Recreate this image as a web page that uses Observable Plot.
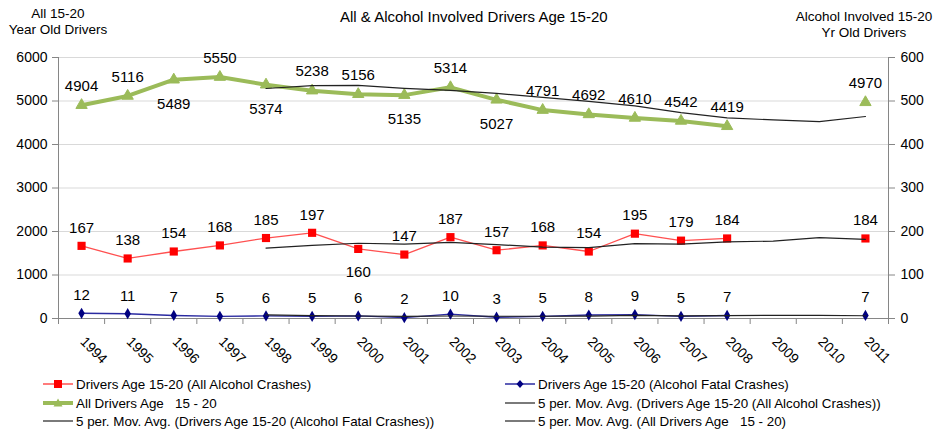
<!DOCTYPE html>
<html>
<head>
<meta charset="utf-8">
<script src="https://cdn.jsdelivr.net/npm/d3@7"></script>
<script src="https://cdn.jsdelivr.net/npm/@observablehq/plot@0.6"></script>
<style>
  body { margin: 0; background: #fff; }
  #wrap { position: relative; width: 934px; height: 433px; overflow: hidden; font-family: "Liberation Sans", Arial, sans-serif; color: #000; }
  .abs { position: absolute; white-space: nowrap; }
  .ctitle { font-size: 15px; }
  .atitle { font-size: 13.5px; text-align: center; line-height: 16px; }
  .leg { position: absolute; font-size: 13.4px; display: flex; align-items: center; height: 18px; }
  .leg svg { margin-right: 3px; }
</style>
</head>
<body>
<div id="wrap"></div>
<script>
// ---- data ----
const years = [1994,1995,1996,1997,1998,1999,2000,2001,2002,2003,2004,2005,2006,2007,2008,2009,2010,2011];
const allDrivers =      [4904,5116,5489,5550,5374,5238,5156,5135,5314,5027,4791,4692,4610,4542,4419,null,null,4970];
const alcoholCrashes =  [167,138,154,168,185,197,160,147,187,157,168,154,195,179,184,null,null,184];
const fatalCrashes =    [12,11,7,5,6,5,6,2,10,3,5,8,9,5,7,null,null,7];
const maAllDrivers =    [null,null,null,null,5287,5353,5361,5291,5243,5174,5085,4992,4887,4732,4611,4566,4524,4644];
const maAlcohol =       [null,null,null,null,162,168,173,171,175,170,164,163,172,171,176,178,186,182];
const maFatal =         [null,null,null,null,8.2,6.8,5.8,4.8,5.8,5.2,5.2,5.6,7.0,6.0,6.8,7.3,7.0,6.3];
const leftTicks = [0,1000,2000,3000,4000,5000,6000];

const chartTitle = "All & Alcohol Involved Drivers Age 15-20";
const leftTitle = ["All 15-20", "Year Old Drivers"];
const rightTitle = ["Alcohol Involved 15-20", "Yr Old Drivers"];
const legendItems = [
  {name: "Drivers Age 15-20 (All Alcohol Crashes)", kind: "red"},
  {name: "Drivers Age 15-20 (Alcohol Fatal Crashes)", kind: "navy"},
  {name: "All Drivers Age   15 - 20", kind: "green"},
  {name: "5 per. Mov. Avg. (Drivers Age 15-20 (All Alcohol Crashes))", kind: "black"},
  {name: "5 per. Mov. Avg. (Drivers Age 15-20 (Alcohol Fatal Crashes))", kind: "black"},
  {name: "5 per. Mov. Avg. (All Drivers Age   15 - 20)", kind: "black"}
];

// ---- build rows (secondary axis values mapped x10 onto primary scale) ----
const rows = years.map((yr, i) => ({
  year: yr,
  all: allDrivers[i],
  alc: alcoholCrashes[i] == null ? null : alcoholCrashes[i] * 10,
  alcRaw: alcoholCrashes[i],
  fat: fatalCrashes[i] == null ? null : fatalCrashes[i] * 10,
  fatRaw: fatalCrashes[i],
  maAll: maAllDrivers[i],
  maAlc: maAlcohol[i] == null ? null : maAlcohol[i] * 10,
  maFat: maFatal[i] == null ? null : maFatal[i] * 10
}));
const bounds = years.map(y => y - 0.5).concat([years[years.length - 1] + 0.5]);
const belowAll = new Set([1996, 1998, 2001, 2003]);
const belowAlc = new Set([2000]);

const FONT = '"Liberation Sans", Arial, sans-serif';
const GREEN = "#9BBB59", RED = "#FF0000", NAVY = "#000080";

const chart = Plot.plot({
  width: 934,
  height: 375,
  marginLeft: 58,
  marginRight: 46,
  marginTop: 57,
  marginBottom: 57,
  style: {fontFamily: FONT, fontSize: "14px", color: "#000", background: "transparent", overflow: "visible"},
  x: {type: "linear", domain: [bounds[0], bounds[bounds.length - 1]]},
  y: {domain: [0, 6000]},
  marks: [
    Plot.ruleY(leftTicks.filter(d => d > 0), {stroke: "#d9d9d9", strokeWidth: 1}),
    Plot.ruleX([bounds[0], bounds[bounds.length - 1]], {stroke: "#868686"}),
    Plot.ruleY([0], {stroke: "#868686"}),
    Plot.axisY({anchor: "left", ticks: leftTicks, tickSize: 6, tickPadding: 5, stroke: "#868686", fill: "#000", label: null, tickFormat: d => String(d), fontSize: 14}),
    Plot.axisY({anchor: "right", ticks: leftTicks, tickSize: 6, tickPadding: 6, stroke: "#868686", fill: "#000", label: null, tickFormat: d => String(d / 10), fontSize: 14}),
    Plot.axisX({ticks: bounds, tickSize: 6, stroke: "#868686", tickFormat: () => "", label: null}),
    Plot.text(years, {x: d => d, frameAnchor: "bottom", dy: 24, dx: -2, rotate: 45, textAnchor: "start", text: d => String(d), fontSize: 14, fill: "#000"}),

    // series
    Plot.line(rows, {x: "year", y: "all", stroke: GREEN, strokeWidth: 4, curve: "linear"}),
    Plot.dot(rows.filter(d => d.all != null), {x: "year", y: "all", symbol: "triangle", r: 4.2, fill: GREEN, stroke: GREEN, strokeWidth: 1}),
    Plot.line(rows, {x: "year", y: "alc", stroke: "#FF5050", strokeWidth: 1.3}),
    Plot.dot(rows.filter(d => d.alc != null), {x: "year", y: "alc", symbol: "square", r: 4.6, fill: RED}),
    Plot.line(rows, {x: "year", y: "fat", stroke: "#2a2aa0", strokeWidth: 1.4}),
    Plot.dot(rows.filter(d => d.fat != null), {x: "year", y: "fat", symbol: "diamond", r: 3.4, fill: NAVY}),

    // moving averages
    Plot.line(rows, {x: "year", y: "maAll", stroke: "#222", strokeWidth: 1.2}),
    Plot.line(rows, {x: "year", y: "maAlc", stroke: "#222", strokeWidth: 1.2}),
    Plot.line(rows, {x: "year", y: "maFat", stroke: "#222", strokeWidth: 1.2}),

    // data labels
    Plot.text(rows.filter(d => d.all != null && !belowAll.has(d.year)), {x: "year", y: "all", text: d => String(d.all), dy: -19, fontSize: 15, fill: "#000"}),
    Plot.text(rows.filter(d => d.all != null && belowAll.has(d.year)), {x: "year", y: "all", text: d => String(d.all), dy: 24, fontSize: 15, fill: "#000"}),
    Plot.text(rows.filter(d => d.alc != null && !belowAlc.has(d.year)), {x: "year", y: "alc", text: d => String(d.alcRaw), dy: -18, fontSize: 15, fill: "#000"}),
    Plot.text(rows.filter(d => d.alc != null && belowAlc.has(d.year)), {x: "year", y: "alc", text: d => String(d.alcRaw), dy: 23, fontSize: 15, fill: "#000"}),
    Plot.text(rows.filter(d => d.fat != null), {x: "year", y: "fat", text: d => String(d.fatRaw), dy: -18, fontSize: 15, fill: "#000"})
  ]
});

const wrap = document.getElementById("wrap");
chart.style.position = "absolute";
chart.style.left = "0px";
chart.style.top = "0px";
wrap.appendChild(chart);

function addDiv(html, cls, css) {
  const d = document.createElement("div");
  d.className = "abs " + cls;
  d.innerHTML = html;
  Object.assign(d.style, css);
  wrap.appendChild(d);
  return d;
}
addDiv(chartTitle, "ctitle", {left: "340px", top: "8px"});
addDiv(leftTitle.join("<br>"), "atitle", {left: "0px", top: "6px", width: "116px"});
addDiv(rightTitle.join("<br>"), "atitle", {left: "792px", top: "9px", width: "144px"});

function swatch(kind) {
  const w = 30, h = 12;
  let s = `<svg width="${w}" height="${h}" viewBox="0 0 ${w} ${h}">`;
  if (kind === "red") {
    s += `<line x1="0" x2="${w}" y1="6" y2="6" stroke="#FF5050" stroke-width="1.5"/><rect x="11" y="2" width="8" height="8" fill="${RED}"/>`;
  } else if (kind === "navy") {
    s += `<line x1="0" x2="${w}" y1="6" y2="6" stroke="#2a2aa0" stroke-width="1.5"/><path d="M15 2 L18.5 6 L15 10 L11.5 6 Z" fill="${NAVY}"/>`;
  } else if (kind === "green") {
    s += `<line x1="0" x2="${w}" y1="6" y2="6" stroke="${GREEN}" stroke-width="4"/><path d="M15 1.5 L19.5 9.5 L10.5 9.5 Z" fill="${GREEN}"/>`;
  } else {
    s += `<line x1="0" x2="${w}" y1="6" y2="6" stroke="#222" stroke-width="1.2"/>`;
  }
  return s + "</svg>";
}
const colX = [43, 505];
const rowY = [375, 394, 412];
legendItems.forEach((it, i) => {
  const d = document.createElement("div");
  d.className = "leg";
  d.style.left = colX[i % 2] + "px";
  d.style.top = rowY[Math.floor(i / 2)] + "px";
  d.innerHTML = swatch(it.kind) + `<span style="white-space:pre">${it.name}</span>`;
  wrap.appendChild(d);
});
</script>
</body>
</html>
